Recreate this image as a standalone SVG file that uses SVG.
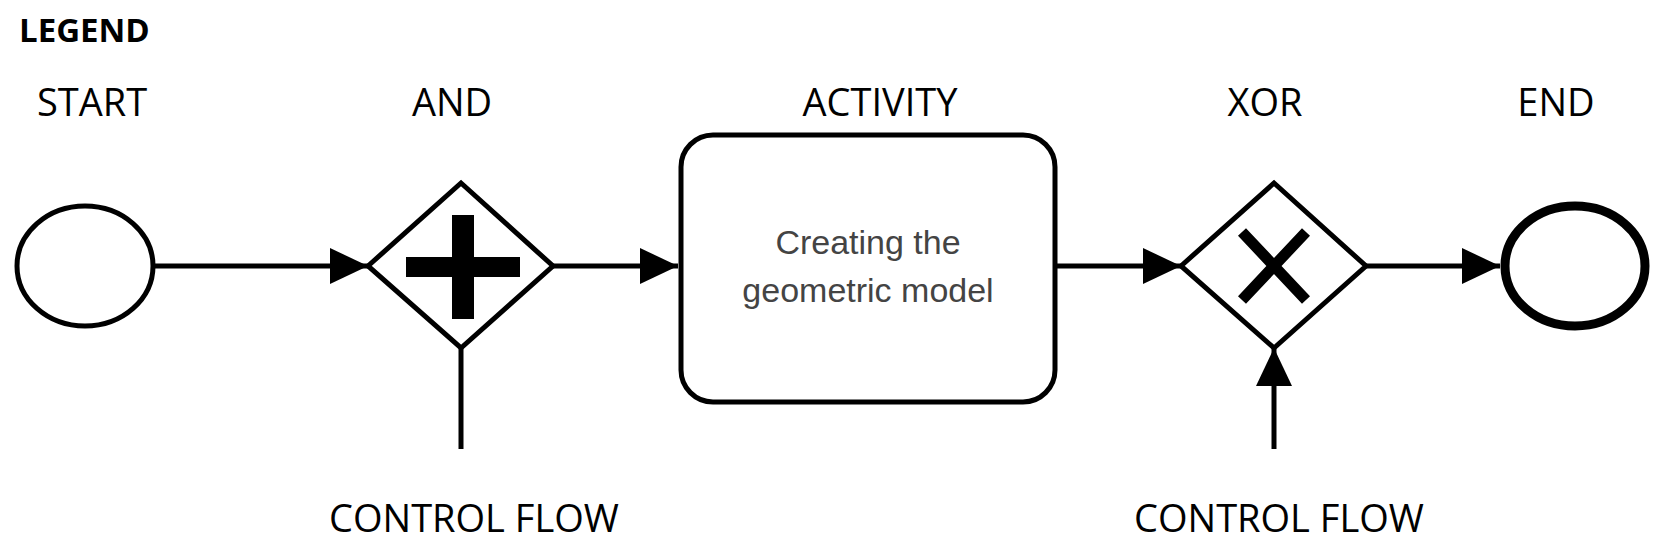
<svg xmlns="http://www.w3.org/2000/svg" width="1657" height="552" viewBox="0 0 1657 552">
<style>
.l{font-family:"Open Sans","Liberation Sans",Arial,sans-serif;font-size:38px;fill:#000;text-anchor:middle}
.s{fill:#fff;stroke:#000;stroke-width:5}
.c{stroke:#000;stroke-width:5;fill:none}
.t{font-family:"Liberation Sans",Arial,sans-serif;font-size:34px;fill:#444;text-anchor:middle}
</style>
<defs><marker id="a" markerUnits="userSpaceOnUse" markerWidth="40" markerHeight="40" refX="38" refY="18" orient="auto"><path d="M0,0 L38,18 L0,36Z" fill="#000"/></marker></defs>
<rect width="1657" height="552" fill="#fff"/>
<text x="19" y="42" font-family="Open Sans,Liberation Sans,Arial,sans-serif" font-weight="bold" font-size="33">LEGEND</text>
<text class="l" x="92" y="116">START</text>
<text class="l" x="452" y="116">AND</text>
<text class="l" x="880" y="116">ACTIVITY</text>
<text class="l" x="1265" y="116">XOR</text>
<text class="l" x="1556" y="116">END</text>
<text class="l" x="474" y="532">CONTROL FLOW</text>
<text class="l" x="1279" y="532">CONTROL FLOW</text>
<g id="connectors">
<line class="c" x1="153" y1="266" x2="368" y2="266" marker-end="url(#a)"/>
<line class="c" x1="553" y1="266" x2="678" y2="266" marker-end="url(#a)"/>
<line class="c" x1="1055" y1="266" x2="1181" y2="266" marker-end="url(#a)"/>
<line class="c" x1="1366" y1="266" x2="1500" y2="266" marker-end="url(#a)"/>
<line class="c" x1="461" y1="348" x2="461" y2="449"/>
<line class="c" x1="1274" y1="449" x2="1274" y2="348" marker-end="url(#a)"/>
</g>
<g id="start"><ellipse class="s" cx="85" cy="266" rx="68" ry="60"/></g>
<g id="and"><path class="s" d="M368,266 L461,183 L553,266 L461,348Z"/><rect x="406" y="257" width="114" height="20"/><rect x="452" y="215" width="22" height="104"/></g>
<g id="activity"><rect class="s" x="681" y="135" width="374" height="267" rx="32"/>
<text class="t" x="868" y="254">Creating the</text>
<text class="t" x="868" y="302">geometric model</text></g>
<g id="xor"><path class="s" d="M1181,266 L1274,183 L1366,266 L1274,348Z"/><path d="M1242,232 L1306,300 M1306,232 L1242,300" stroke="#000" stroke-width="11"/></g>
<g id="end"><ellipse cx="1575" cy="266" rx="70" ry="60" fill="#fff" stroke="#000" stroke-width="9"/></g>
</svg>
